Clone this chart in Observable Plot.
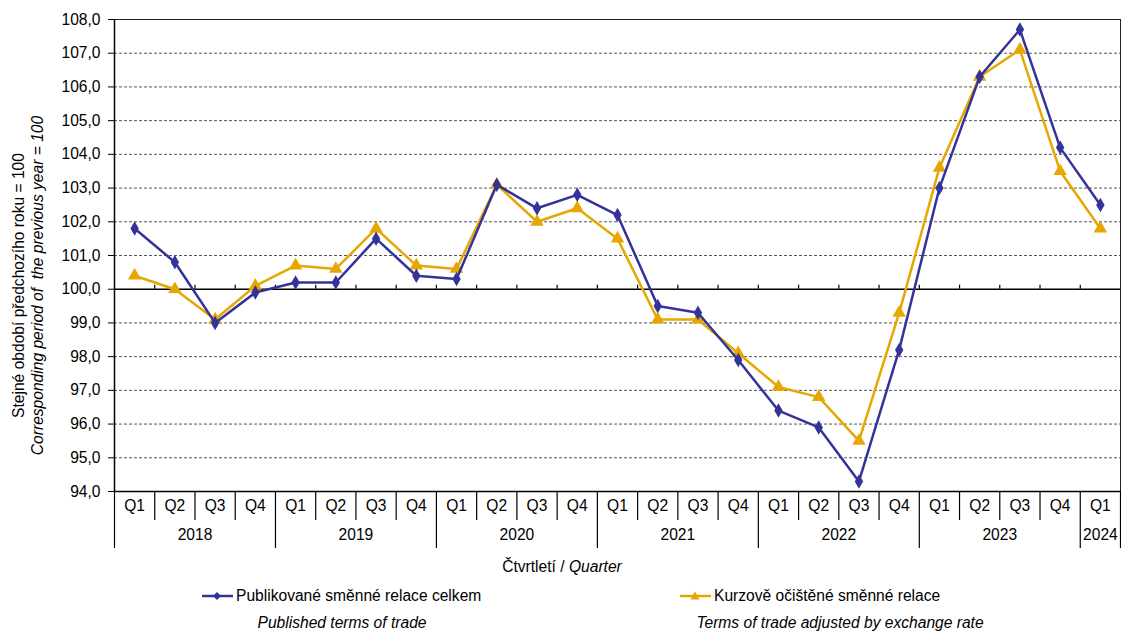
<!DOCTYPE html>
<html>
<head>
<meta charset="utf-8">
<script src="https://cdn.jsdelivr.net/npm/d3@7"></script>
<script src="https://cdn.jsdelivr.net/npm/@observablehq/plot@0.6"></script>
<style>
  body { margin: 0; background: #fff; font-family: "Liberation Sans", Arial, sans-serif; }
  #wrap { width: 1121px; }
  #below { position: relative; width: 1121px; height: 76px; font-size: 15.6px; color: #000; }
  #below div { position: absolute; white-space: nowrap; }
  .c { transform: translate(-50%, -50%); }
  .l { transform: translate(0, -50%); display: flex; align-items: center; }
</style>
</head>
<body>
<div id="wrap"><div id="chart"></div><div id="below"></div></div>
<script>
// ---- data ----
const quarterLabels = ["Q1","Q2","Q3","Q4","Q1","Q2","Q3","Q4","Q1","Q2","Q3","Q4",
                       "Q1","Q2","Q3","Q4","Q1","Q2","Q3","Q4","Q1","Q2","Q3","Q4","Q1"];
const yearLabels = ["2018","2019","2020","2021","2022","2023","2024"];
const quartersPerYear = [4,4,4,4,4,4,1];
const published = [101.8,100.8,99.0,99.9, 100.2,100.2,101.5,100.4, 100.3,103.1,102.4,102.8,
                   102.2,99.5,99.3,97.9, 96.4,95.9,94.3,98.2, 103.0,106.3,107.7,104.2, 102.5];
const adjusted  = [100.4,100.0,99.1,100.1, 100.7,100.6,101.8,100.7, 100.6,103.1,102.0,102.4,
                   101.5,99.1,99.1,98.1, 97.1,96.8,95.5,99.3, 103.6,106.3,107.1,103.5, 101.8];
const yTicks = [94,95,96,97,98,99,100,101,102,103,104,105,106,107,108];
const seriesNames = ["Publikované směnné relace celkem","Kurzově očištěné směnné relace"];
const seriesNamesEn = ["Published terms of trade","Terms of trade adjusted by exchange rate"];
const yTitle = ["Stejné období předchozího roku = 100","Corresponding period of  the previous year = 100"];
const xTitle = ["Čtvrtletí","Quarter"];

const blue = "#333399", orange = "#e6a700";
const FS = 15.6;

// ---- derived tables ----
const n = quarterLabels.length;
const rows = quarterLabels.map((q, i) => ({i, q, pub: published[i], adj: adjusted[i]}));
const yearRows = [];
let start = 0;
const yearBounds = [-0.5];
yearLabels.forEach((y, k) => {
  const cnt = quartersPerYear[k];
  yearRows.push({year: y, mid: start + (cnt - 1) / 2});
  start += cnt;
  yearBounds.push(start - 0.5);
});
const innerBounds = d3.range(0, n - 1).map(i => i + 0.5);
const qBounds = innerBounds.filter(b => !yearBounds.includes(b));
const yMin = yTicks[0], yMax = yTicks[yTicks.length - 1];
const fmt = d => d.toFixed(1).replace(".", ",");

const plot = Plot.plot({
  width: 1121,
  height: 555,
  marginTop: 19,
  marginLeft: 114,
  marginRight: 1,
  marginBottom: 64,
  style: {fontFamily: "'Liberation Sans', Arial, sans-serif", fontSize: FS + "px", color: "#000", background: "#fff"},
  x: {domain: [-0.5, n - 0.5], axis: null},
  y: {domain: [yMin, yMax], axis: null},
  marks: [
    Plot.ruleY(yTicks.filter(t => t !== 100 && t !== yMin && t !== yMax), {stroke: "#555", strokeDasharray: "3,2", strokeWidth: 1}),
    Plot.frame({stroke: "#222", strokeWidth: 1}),
    Plot.ruleY([100], {stroke: "#000", strokeWidth: 1.5}),
    Plot.ruleY([yMin], {stroke: "#000", strokeWidth: 1.5}),
    Plot.ruleX([-0.5], {stroke: "#000", strokeWidth: 1.5}),
    // small ticks on the 100 line
    Plot.ruleX(innerBounds, {x: d => d, y1: 100, y2: 100, insetTop: -4, stroke: "#000", strokeWidth: 1.2}),
    // y axis
    Plot.axisY(yTicks, {tickSize: 6, tickPadding: 8, tickFormat: fmt, fontSize: FS, stroke: "#000"}),
    // x axis separators
    Plot.ruleX(qBounds, {x: d => d, y1: yMin, y2: yMin, insetBottom: -29, stroke: "#000", strokeWidth: 1.2}),
    Plot.ruleX(yearBounds, {x: d => d, y1: yMin, y2: yMin, insetBottom: -57, stroke: "#000", strokeWidth: 1.2}),
    Plot.text(rows, {x: "i", text: "q", frameAnchor: "bottom", dy: 19, fontSize: FS}),
    Plot.text(yearRows, {x: "mid", text: "year", frameAnchor: "bottom", dy: 48, fontSize: FS}),
    // y title
    Plot.text([yTitle[0]], {frameAnchor: "left", textAnchor: "middle", rotate: -90, dx: -96, dy: 30, fontSize: FS}),
    Plot.text([yTitle[1]], {frameAnchor: "left", textAnchor: "middle", rotate: -90, dx: -77, dy: 30, fontSize: FS, fontStyle: "italic"}),
    // series
    Plot.line(rows, {x: "i", y: "adj", stroke: orange, strokeWidth: 2.5}),
    Plot.dot(rows, {x: "i", y: "adj", symbol: "triangle", fill: orange, r: 5}),
    Plot.line(rows, {x: "i", y: "pub", stroke: blue, strokeWidth: 2.5}),
    Plot.dot(rows, {x: "i", y: "pub", symbol: "diamond", fill: blue, r: 4.4})
  ]
});
document.getElementById("chart").appendChild(plot);

function swatch(color, shape) {
  const m = shape === "diamond"
    ? `<path d="M15,1 L19,5 L15,9 L11,5 Z" fill="${color}"/>`
    : `<path d="M15,0.5 L19.5,8.5 L10.5,8.5 Z" fill="${color}"/>`;
  return `<svg width="31" height="10" style="margin-right:3px"><line x1="0" x2="31" y1="5" y2="5" stroke="${color}" stroke-width="2.5"/>${m}</svg>`;
}
const below = document.getElementById("below");
below.innerHTML = `
  <div class="c" style="left:562px;top:12px">${xTitle[0]} / <i>${xTitle[1]}</i></div>
  <div class="l" style="left:202px;top:41px">${swatch(blue,"diamond")}<span>${seriesNames[0]}</span></div>
  <div class="c" style="left:342px;top:68px"><i>${seriesNamesEn[0]}</i></div>
  <div class="l" style="left:680px;top:41px">${swatch(orange,"triangle")}<span>${seriesNames[1]}</span></div>
  <div class="c" style="left:840px;top:68px"><i>${seriesNamesEn[1]}</i></div>
`;
</script>
</body>
</html>
